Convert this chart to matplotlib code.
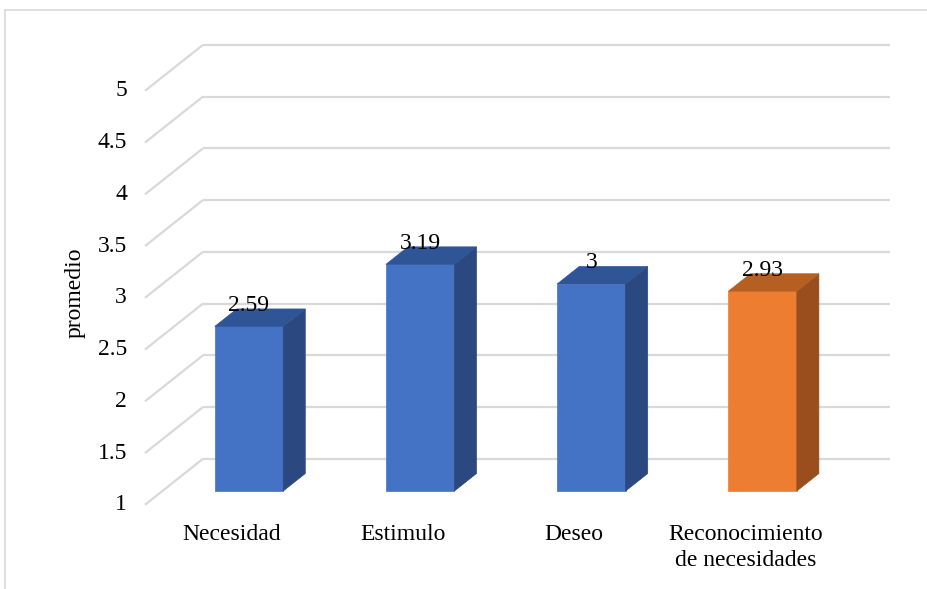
import matplotlib
matplotlib.use("Agg")
import matplotlib.pyplot as plt
from matplotlib.patches import Polygon
from matplotlib.lines import Line2D

# ---- data ----
categories = ["Necesidad", "Estimulo", "Deseo", "Reconocimiento\nde necesidades"]
values = [2.59, 3.19, 3.00, 2.93]
value_labels = ["2.59", "3.19", "3", "2.93"]
y_ticks = [1, 1.5, 2, 2.5, 3, 3.5, 4, 4.5, 5]
y_tick_labels = ["1", "1.5", "2", "2.5", "3", "3.5", "4", "4.5", "5"]
y_title = "promedio"

# ---- styling ----
front_colors = ["#4472C4", "#4472C4", "#4472C4", "#ED7D31"]
top_colors = ["#2F5597", "#2F5597", "#2F5597", "#B65F22"]
side_colors = ["#2B4880", "#2B4880", "#2B4880", "#9A4E1E"]
grid_color = "#D9D9D9"
font = ["Liberation Serif", "DejaVu Serif"]
fs = 17

W, H, DPI = 927, 589, 100
fig = plt.figure(figsize=(W / DPI, H / DPI), dpi=DPI)
ax = fig.add_axes([0, 0, 1, 1])

# data units: x = category index (bar front-plane centre), y = value (bar front plane)
px_per_cat = 171.2
px_per_val = 103.5
x0_px, y1_px = 249.0, 491.0
ax.set_xlim(-x0_px / px_per_cat, (W - x0_px) / px_per_cat)
ax.set_ylim(1 - (H - y1_px) / px_per_val, 1 + y1_px / px_per_val)
ax.axis("off")

# full depth of the floor (front edge -> back wall), in data units
Dx, Dy = 58 / px_per_cat, 46 / px_per_val
front_frac = 0.30      # bar front plane position within depth
bar_depth = 0.38       # bar depth as fraction of full depth
half_w = 0.2

ymin, ymax = y_ticks[0], y_ticks[-1]
left_front_x = (145 - x0_px) / px_per_cat
right_back_x = (890 - x0_px) / px_per_cat

# gridlines: diagonal on the side wall + horizontal on the back wall
for t in y_ticks:
    fy = t - front_frac * Dy
    bx = left_front_x + Dx
    by = fy + Dy
    ax.add_line(Line2D([left_front_x, bx], [fy, by], color=grid_color, lw=1.6, zorder=1,
                       solid_capstyle="butt"))
    ax.add_line(Line2D([bx, right_back_x], [by, by], color=grid_color, lw=1.6, zorder=1,
                       solid_capstyle="butt"))

# 3D bars
dx, dy = bar_depth * Dx, bar_depth * Dy
for i, (v, fc, tc, sc) in enumerate(zip(values, front_colors, top_colors, side_colors)):
    xl, xr = i - half_w, i + half_w
    b = ymin
    front = Polygon([(xl, b), (xr, b), (xr, v), (xl, v)], closed=True,
                    facecolor=fc, edgecolor=fc, lw=0.5, zorder=3)
    side = Polygon([(xr, b), (xr + dx, b + dy), (xr + dx, v + dy), (xr, v)], closed=True,
                   facecolor=sc, edgecolor=sc, lw=0.5, zorder=3)
    top = Polygon([(xl, v), (xr, v), (xr + dx, v + dy), (xl + dx, v + dy)], closed=True,
                  facecolor=tc, edgecolor=tc, lw=0.5, zorder=3)
    for p in (front, side, top):
        ax.add_patch(p)
    ax.text(i, v + 0.205, value_labels[i], ha="center", va="center",
            fontsize=fs, family=font, color="black", zorder=5)

# y tick labels (on the front edge of the side wall)
for t, lab in zip(y_ticks, y_tick_labels):
    ax.text(left_front_x - 18 / px_per_cat, t - front_frac * Dy, lab,
            ha="right", va="center", fontsize=fs, family=font, color="black")

# category labels (projected onto the floor front edge)
for i, cat in enumerate(categories):
    ax.text(i - front_frac * Dx, ymin - front_frac * Dy - 0.19, cat,
            ha="center", va="top", fontsize=fs, family=font, color="black",
            linespacing=1.3)

# axis title
ax.text(75 / px_per_cat + ax.get_xlim()[0], 1 + (y1_px - 293) / px_per_val, y_title,
        rotation=90, ha="center", va="center", fontsize=fs, family=font, color="black")

# chart area border (top and left edges)
fig.add_artist(Line2D([5 / W, 5 / W], [0, 1 - 10 / H], transform=fig.transFigure,
                      color="#D9D9D9", lw=1.2))
fig.add_artist(Line2D([5 / W, 1], [1 - 10 / H, 1 - 10 / H], transform=fig.transFigure,
                      color="#D9D9D9", lw=1.2))

fig.savefig("out.png", dpi=DPI, facecolor="white")
